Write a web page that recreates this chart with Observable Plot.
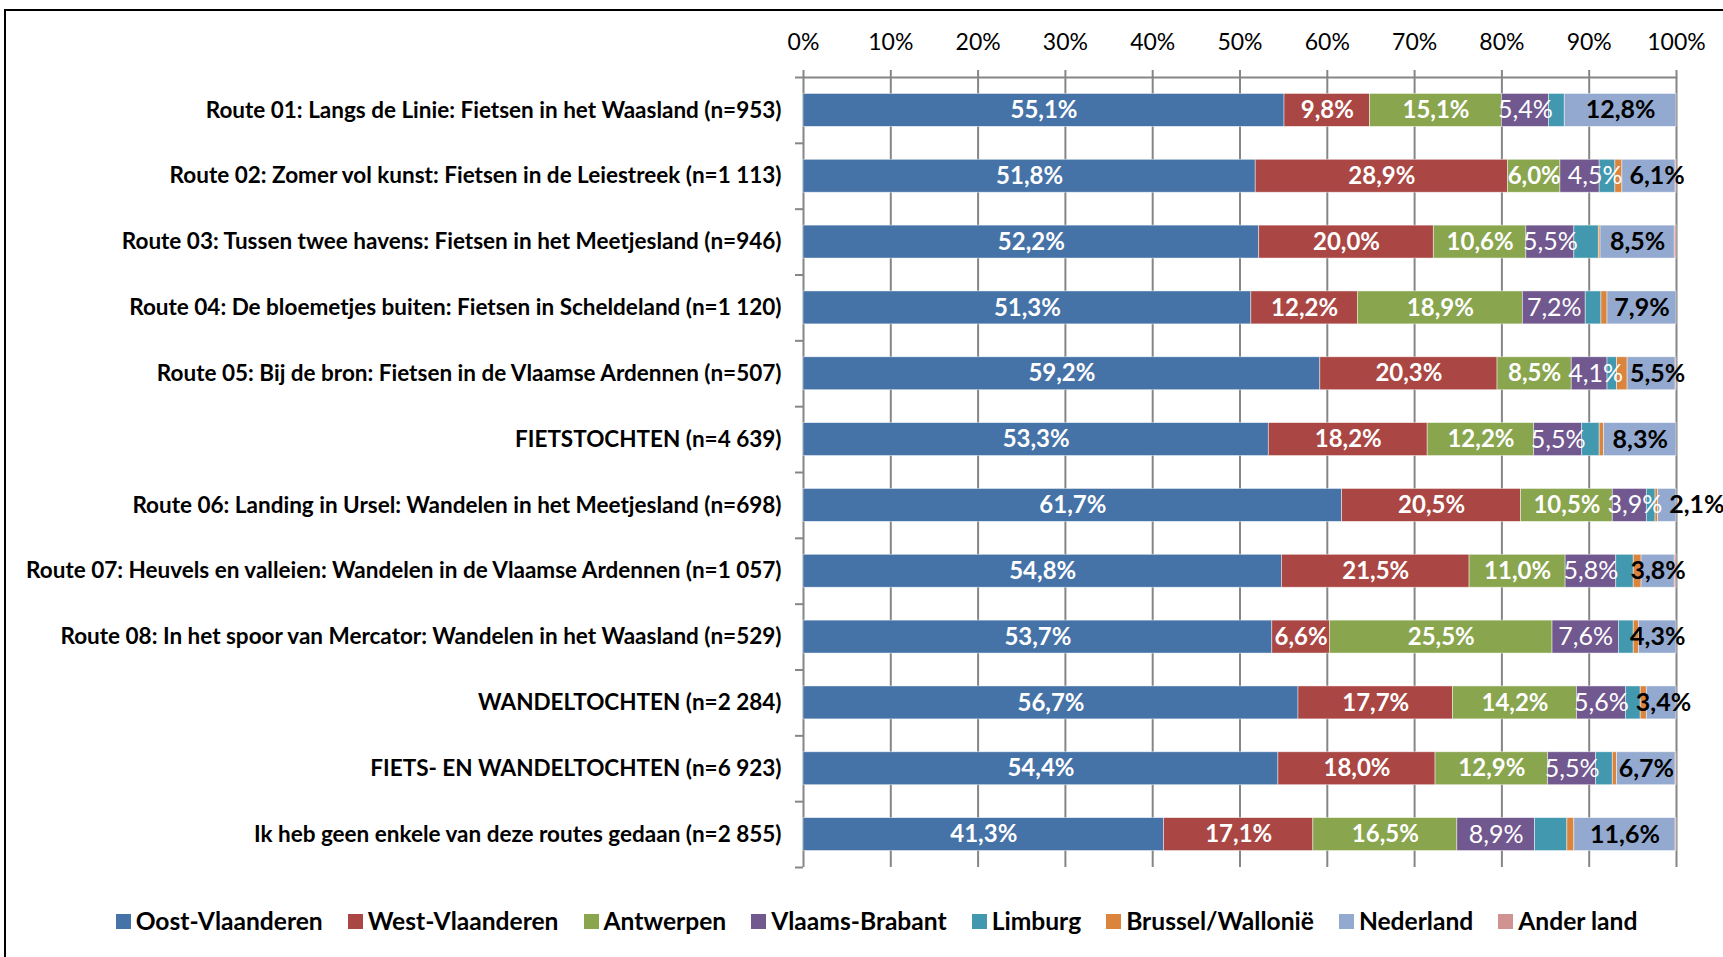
<!DOCTYPE html>
<html><head><meta charset="utf-8">
<script src="https://cdn.jsdelivr.net/npm/d3@7"></script>
<script src="https://cdn.jsdelivr.net/npm/@observablehq/plot@0.6"></script>
<style>
html,body{margin:0;padding:0;background:#fff;overflow:hidden;}
#frame{position:absolute;left:4px;top:9px;width:1719px;height:948px;border-left:2px solid #000;border-top:2px solid #000;pointer-events:none;z-index:10;}
#legend{display:flex;justify-content:center;align-items:center;padding-left:30px;margin-top:21px;font-family:Lato,sans-serif;font-weight:700;font-size:24.6px;color:#000;line-height:30px;}
.item{display:flex;align-items:center;margin:0 12.5px;}
.sw{width:15px;height:15px;margin-right:5px;}
svg g[aria-label="y-axis tick label"]{font-weight:700;}
svg g[aria-label="x-axis tick label"] text, svg g[aria-label="y-axis tick label"] text{fill:#000;}
</style></head><body>
<div id="frame"></div>
<div id="chart"></div>
<div id="legend"></div>
<script>
const categories = [
  "Route 01: Langs de Linie: Fietsen in het Waasland (n=953)",
  "Route 02: Zomer vol kunst: Fietsen in de Leiestreek (n=1 113)",
  "Route 03: Tussen twee havens: Fietsen in het Meetjesland (n=946)",
  "Route 04: De bloemetjes buiten: Fietsen in Scheldeland (n=1 120)",
  "Route 05: Bij de bron: Fietsen in de Vlaamse Ardennen (n=507)",
  "FIETSTOCHTEN (n=4 639)",
  "Route 06: Landing in Ursel: Wandelen in het Meetjesland (n=698)",
  "Route 07: Heuvels en valleien: Wandelen in de Vlaamse Ardennen (n=1 057)",
  "Route 08: In het spoor van Mercator: Wandelen in het Waasland (n=529)",
  "WANDELTOCHTEN (n=2 284)",
  "FIETS- EN WANDELTOCHTEN (n=6 923)",
  "Ik heb geen enkele van deze routes gedaan (n=2 855)"
];
const series = ["Oost-Vlaanderen","West-Vlaanderen","Antwerpen","Vlaams-Brabant","Limburg","Brussel/Wallonië","Nederland","Ander land"];
const colors = ["#4572A7","#AA4643","#89A54E","#71588F","#4198AF","#DB843D","#93A9CF","#D19392"];

const oostVlaanderen = [55.1,51.8,52.2,51.3,59.2,53.3,61.7,54.8,53.7,56.7,54.4,41.3];
const westVlaanderen = [9.8,28.9,20.0,12.2,20.3,18.2,20.5,21.5,6.6,17.7,18.0,17.1];
const antwerpen      = [15.1,6.0,10.6,18.9,8.5,12.2,10.5,11.0,25.5,14.2,12.9,16.5];
const vlaamsBrabant  = [5.4,4.5,5.5,7.2,4.1,5.5,3.9,5.8,7.6,5.6,5.5,8.9];
const limburg        = [1.8,1.8,2.8,1.8,1.1,2.0,1.0,2.0,1.7,1.7,1.9,3.7];
const brusselWallonie= [0.0,0.8,0.2,0.7,1.2,0.5,0.3,0.9,0.6,0.7,0.5,0.8];
const nederland      = [12.8,6.1,8.5,7.9,5.5,8.3,2.1,3.8,4.3,3.4,6.7,11.6];
const anderLand      = [0.0,0.1,0.2,0.0,0.1,0.0,0.0,0.2,0.0,0.0,0.1,0.1];

const xTicks = [0,10,20,30,40,50,60,70,80,90,100];

const seriesValues = [oostVlaanderen,westVlaanderen,antwerpen,vlaamsBrabant,limburg,brusselWallonie,nederland,anderLand];
const table = [];
categories.forEach((cat, i) => {
  series.forEach((s, j) => table.push({cat, series: s, value: seriesValues[j][i]}));
});

const fmt = v => v.toFixed(1).replace(".", ",") + "%";
const W = 1723, H = 885, mT = 77, mB = 18, mL = 803, mR = 47;
const step = (H - mT - mB) / categories.length;
const grid = "#868686";

const label = (set, fill, weight, size) => Plot.text(table, Plot.stackX({
  x: "value", y: "cat", z: "series", order: series,
  text: d => set.includes(d.series) ? fmt(d.value) : null,
  fill, fontWeight: weight, fontSize: size
}));

const plot = Plot.plot({
  width: W, height: H,
  marginTop: mT, marginBottom: mB, marginLeft: mL, marginRight: mR,
  style: {fontFamily: "Lato, sans-serif", background: "transparent", overflow: "visible", color: "#000"},
  x: {domain: [0, 100], axis: null},
  y: {domain: categories, type: "band", paddingInner: 0.5, paddingOuter: 0.25, round: false, axis: null},
  color: {domain: series, range: colors},
  marks: [
    Plot.ruleX(xTicks, {stroke: grid, strokeWidth: 2}),
    Plot.axisX({anchor: "top", ticks: xTicks, tickSize: 8, tickPadding: 20, tickFormat: d => d + "%",
                fontSize: 23, stroke: grid, strokeWidth: 2, label: null}),
    Plot.ruleY([categories[0]], {x1: 0, x2: 100, dy: -step / 2, stroke: grid, strokeWidth: 2}),
    Plot.axisY({anchor: "left", tickSize: 8, tickFormat: () => "", dy: -step / 2, stroke: grid, strokeWidth: 2, label: null}),
    Plot.axisY({anchor: "left", ticks: [categories[categories.length - 1]], tickSize: 8, tickFormat: () => "",
                dy: step / 2, stroke: grid, strokeWidth: 2, label: null}),
    Plot.barX(table, Plot.stackX({x: "value", y: "cat", fill: "series", z: "series", order: series,
                stroke: "#fff", strokeWidth: 0.75, strokeOpacity: 0.6})),
    Plot.axisY({anchor: "left", tickSize: 0, tickPadding: 22, fontSize: 22.5, fontWeight: "bold", label: null}),
    label(["Oost-Vlaanderen","West-Vlaanderen","Antwerpen"], "#fff", "bold", 24),
    label(["Vlaams-Brabant"], "#fff", "normal", 25),
    label(["Nederland"], "#000", "bold", 25)
  ]
});
document.getElementById("chart").append(plot);

// label collision avoidance within each bar (shift to the right), as the spreadsheet does
const svgTop = plot.getBoundingClientRect().top;
const texts = [...plot.querySelectorAll("text")].filter(t => {
  const g = t.closest("g[aria-label]");
  return g && !/axis/.test(g.getAttribute("aria-label"));
});
const rows = new Map();
texts.forEach(t => {
  const r = t.getBoundingClientRect();
  if (!r.width) return;
  const key = Math.floor(((r.top + r.bottom) / 2 - svgTop - mT) / step);
  if (!rows.has(key)) rows.set(key, []);
  rows.get(key).push({t, left: r.left, right: r.right});
});
const gap = 7;
rows.forEach(list => {
  list.sort((a, b) => a.left - b.left);
  for (let i = 1; i < list.length; i++) {
    const prev = list[i - 1], cur = list[i];
    if (cur.left < prev.right + gap) {
      const dx = prev.right + gap - cur.left;
      const tr = cur.t.getAttribute("transform");
      cur.t.setAttribute("transform", `translate(${dx},0)` + (tr ? " " + tr : ""));
      cur.left += dx; cur.right += dx;
    }
  }
});

const legend = document.getElementById("legend");
series.forEach((s, j) => {
  const item = document.createElement("div");
  item.className = "item";
  const sw = document.createElement("div");
  sw.className = "sw";
  sw.style.background = colors[j];
  const tx = document.createElement("span");
  tx.textContent = s;
  item.append(sw, tx);
  legend.append(item);
});
</script>
</body></html>
